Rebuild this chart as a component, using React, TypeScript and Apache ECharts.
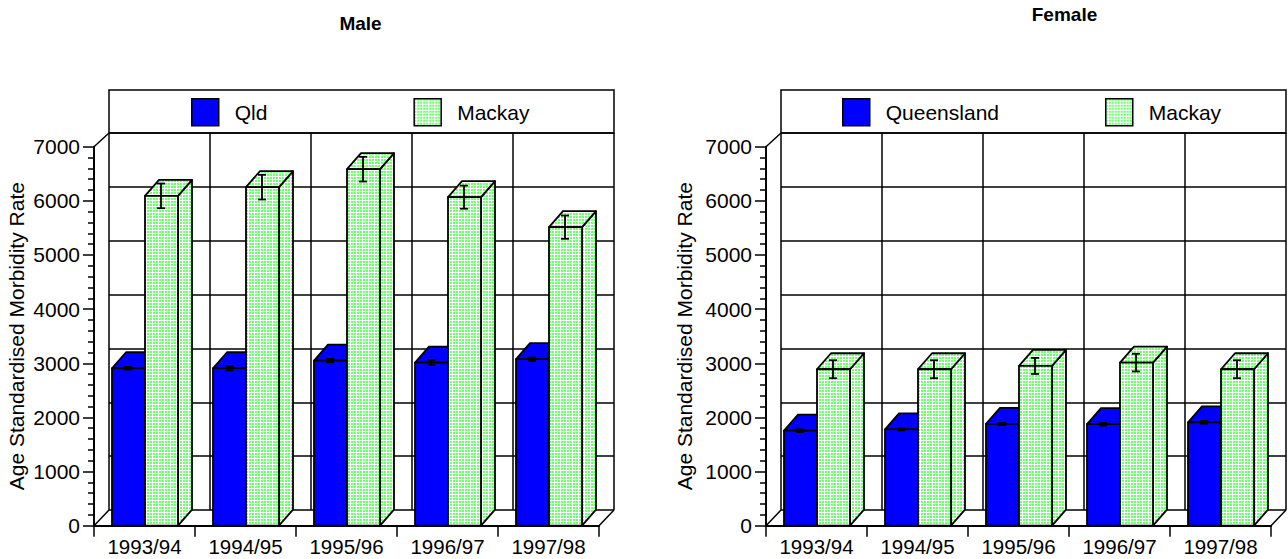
import React, { useEffect, useRef } from "react";
import * as echarts from "echarts";

const categories = ["1993/94", "1994/95", "1995/96", "1996/97", "1997/98"];
const maleQld = [2908, 2908, 3050, 3012, 3075];
const maleQldErr = [25, 40, 30, 45, 30];
const maleMackay = [6092, 6253, 6585, 6068, 5514];
const maleMackayErr = [228, 228, 228, 213, 215];
const femaleQld = [1755, 1780, 1880, 1875, 1910];
const femaleQldErr = [25, 20, 20, 25, 25];
const femaleMackay = [2890, 2890, 2951, 3012, 2890];
const femaleMackayErr = [166, 166, 148, 163, 166];

const FONT = "'Liberation Sans', Arial, sans-serif";
const BLUE = "#0000ff";
const INK = "#000000";
const DEPTH_X = 14;
const DEPTH_Y = -16;
const BAR_W = 33;

function makePattern() {
  const c = document.createElement("canvas");
  c.width = 3;
  c.height = 3;
  const g = c.getContext("2d")!;
  g.fillStyle = "#ffffff";
  g.fillRect(0, 0, 3, 3);
  g.fillStyle = "#70ff70";
  g.fillRect(0, 0, 2, 2);
  return { image: c, repeat: "repeat" };
}

function barSeries(name: string, values: number[], errs: number[], gridAxis: number, side: "left" | "right", fill: any) {
  const renderItem = (_p: any, api: any) => {
    const i = api.value(0);
    const [cx, top] = api.coord([i, api.value(1)]);
    const base = api.coord([i, 0])[1];
    const center = cx + 0.5;
    const x0 = side === "left" ? center - BAR_W : center;
    const x1 = x0 + BAR_W;
    const edge = { stroke: INK, lineWidth: 1.8, lineJoin: "round" };
    const yHi = api.coord([i, api.value(1) + api.value(2)])[1];
    const yLo = api.coord([i, api.value(1) - api.value(2)])[1];
    const ex = (x0 + x1) / 2 - 0.5;
    const capW = 4;
    const err = { stroke: INK, lineWidth: 1.8 };
    return {
      type: "group",
      children: [
        { type: "polygon", shape: { points: [[x1, top], [x1 + DEPTH_X, top + DEPTH_Y], [x1 + DEPTH_X, base + DEPTH_Y], [x1, base]] }, style: { fill, ...edge } },
        { type: "polygon", shape: { points: [[x0, top], [x0 + DEPTH_X, top + DEPTH_Y], [x1 + DEPTH_X, top + DEPTH_Y], [x1, top]] }, style: { fill, ...edge } },
        { type: "rect", shape: { x: x0, y: top, width: BAR_W, height: base - top }, style: { fill, ...edge } },
        { type: "line", shape: { x1: ex, y1: yHi, x2: ex, y2: yLo }, style: err },
        { type: "line", shape: { x1: ex - capW, y1: yHi, x2: ex + capW, y2: yHi }, style: err },
        { type: "line", shape: { x1: ex - capW, y1: yLo, x2: ex + capW, y2: yLo }, style: err },
      ],
    };
  };
  return {
    type: "custom",
    name,
    xAxisIndex: gridAxis,
    yAxisIndex: gridAxis,
    clip: false,
    renderItem,
    itemStyle: { color: fill },
    encode: { x: 0, y: 1 },
    data: values.map((v, i) => [i, v, errs[i]]),
  };
}

export default function App() {
  const ref = useRef<HTMLDivElement>(null);
  useEffect(() => {
    document.body.style.margin = "0";
    const chart = echarts.init(ref.current!, undefined, { renderer: "svg" });
    const pattern = makePattern();

    const backLine = { show: true, lineStyle: { color: INK, width: 1.5 } };
    const backX = (gridIndex: number) => ({
      type: "category", gridIndex, data: categories, boundaryGap: true,
      axisLine: { show: false }, axisTick: { show: false }, axisLabel: { show: false },
      splitLine: { ...backLine, interval: 0 },
    });
    const backY = (gridIndex: number) => ({
      type: "value", gridIndex, min: 0, max: 7000, interval: 1000,
      axisLine: { show: false }, axisTick: { show: false }, axisLabel: { show: false },
      splitLine: backLine,
    });
    const frontX = (gridIndex: number) => ({
      type: "category", gridIndex, data: categories, boundaryGap: true,
      axisLine: { show: true, lineStyle: { color: INK, width: 2 } },
      axisTick: { show: true, length: 11, interval: 0, lineStyle: { color: INK, width: 1.5 } },
      axisLabel: { interval: 0, color: INK, fontFamily: FONT, fontSize: 20.5, lineHeight: 16, margin: 13 },
      splitLine: { show: false },
    });
    const frontY = (gridIndex: number, nameGap: number) => ({
      type: "value", gridIndex, min: 0, max: 7000, interval: 1000,
      name: "Age Standardised Morbidity Rate", nameLocation: "middle", nameGap,
      nameTextStyle: { color: INK, fontFamily: FONT, fontSize: 21 },
      axisLine: { show: true, lineStyle: { color: INK, width: 2 } },
      axisTick: { show: true, length: 11, lineStyle: { color: INK, width: 1.5 } },
      minorTick: { show: true, splitNumber: 5, length: 6, lineStyle: { color: INK, width: 1.5 } },
      axisLabel: { color: INK, fontFamily: FONT, fontSize: 21, margin: 14, formatter: (v: number) => String(v) },
      splitLine: { show: false },
    });
    const legendBase = {
      orient: "horizontal", top: 93, itemWidth: 27, itemHeight: 27, selectedMode: false, icon: "rect",
      itemStyle: { borderColor: INK, borderWidth: 1.5 },
      textStyle: { color: INK, fontFamily: FONT, fontSize: 21, padding: [0, 0, 3, 11] },
    };
    const frame = (x: number, fx: number) => [
      { type: "rect", shape: { x, y: 90, width: 505, height: 43 }, style: { fill: "none", stroke: INK, lineWidth: 1.5 } },
      { type: "line", shape: { x1: fx, y1: 146.7, x2: x, y2: 133 }, style: { stroke: INK, lineWidth: 1.5 } },
      { type: "line", shape: { x1: fx, y1: 525.7, x2: x, y2: 510 }, style: { stroke: INK, lineWidth: 1.5 } },
      { type: "line", shape: { x1: fx + 505, y1: 525.7, x2: x + 505, y2: 510 }, style: { stroke: INK, lineWidth: 1.5 } },
    ];
    const gridBase = { outerBoundsMode: "none", containLabel: false };

    chart.setOption({
      animation: false,
      backgroundColor: "#ffffff",
      title: [
        { text: "Male", left: 355.5, top: 9, textAlign: "center", textStyle: { color: INK, fontFamily: FONT, fontSize: 19, fontWeight: "bold" } },
        { text: "Female", left: 1059.5, top: 0, textAlign: "center", textStyle: { color: INK, fontFamily: FONT, fontSize: 19, fontWeight: "bold" } },
      ],
      legend: [
        { ...legendBase, left: 186, itemGap: 146, data: ["Qld", "Mackay"] },
        { ...legendBase, left: 837, itemGap: 106, data: ["Queensland", "Mackay"] },
      ],
      grid: [
        { ...gridBase, left: 109, width: 505, top: 133, height: 377 },
        { ...gridBase, left: 781, width: 505, top: 133, height: 377 },
        { ...gridBase, left: 94, width: 505, top: 146.7, height: 379 },
        { ...gridBase, left: 766, width: 505, top: 146.7, height: 379 },
      ],
      xAxis: [backX(0), backX(1), frontX(2), frontX(3)],
      yAxis: [backY(0), backY(1), frontY(2, 67), frontY(3, 71)],
      graphic: [...frame(109, 94), ...frame(781, 766)],
      series: [
        barSeries("Qld", maleQld, maleQldErr, 2, "left", BLUE),
        barSeries("Mackay", maleMackay, maleMackayErr, 2, "right", pattern),
        barSeries("Queensland", femaleQld, femaleQldErr, 3, "left", BLUE),
        barSeries("Mackay", femaleMackay, femaleMackayErr, 3, "right", pattern),
      ],
    });
    return () => chart.dispose();
  }, []);
  return <div ref={ref} style={{ position: "absolute", left: 0, top: 0, width: 1288, height: 559 }} />;
}
